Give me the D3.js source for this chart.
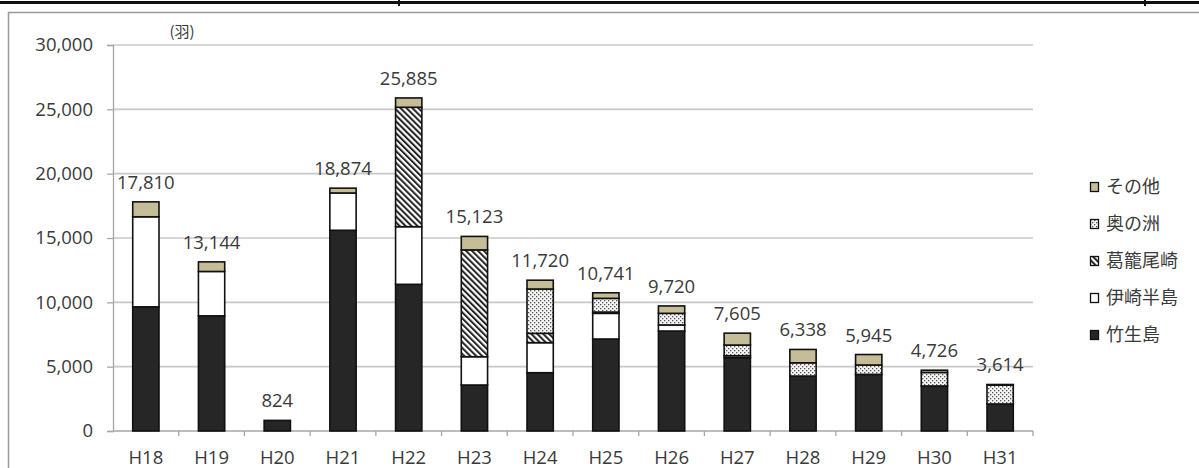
<!DOCTYPE html>
<html><head><meta charset="utf-8">
<script src="https://cdn.jsdelivr.net/npm/d3@7/dist/d3.min.js"></script>
<style>html,body{margin:0;padding:0;background:#fff;}svg{display:block;}</style>
</head><body>
<svg id="chart" width="1199" height="468"></svg>
<script>
const categories = ["H18","H19","H20","H21","H22","H23","H24","H25","H26","H27","H28","H29","H30","H31"];
const seriesNames = ["竹生島","伊崎半島","葛籠尾崎","奥の洲","その他"];
const chikubushima = [9650, 8950, 824, 15600, 11400, 3575, 4530, 7150, 7770, 5700, 4270, 4400, 3500, 2100];
const isaki        = [7000, 3450, 0, 2900, 4480, 2200, 2335, 1995, 470, 150, 0, 0, 0, 0];
const tsuzurao     = [0, 0, 0, 0, 9280, 8300, 725, 100, 0, 0, 0, 0, 0, 0];
const okunosu      = [0, 0, 0, 0, 0, 0, 3446, 1065, 905, 830, 1030, 730, 1050, 1470];
const other        = [1160, 744, 0, 374, 725, 1048, 684, 431, 575, 925, 1038, 815, 176, 44];
const totals       = [17810, 13144, 824, 18874, 25885, 15123, 11720, 10741, 9720, 7605, 6338, 5945, 4726, 3614];
const yTicks = [0, 5000, 10000, 15000, 20000, 25000, 30000];
const unitLabel = "(羽)";

const svg = d3.select("#chart");
const txt = "#3a3a3a";
const numFont = "'Open Sans', 'DejaVu Sans', sans-serif";
const cjkFont = "'Noto Sans CJK JP', 'Noto Sans CJK SC', sans-serif";

// patterns
const defs = svg.append("defs");
const hatch = defs.append("pattern").attr("id","hatch").attr("patternUnits","userSpaceOnUse")
  .attr("width",4.2).attr("height",4.2).attr("patternTransform","rotate(-45)");
hatch.append("rect").attr("width",4.2).attr("height",4.2).attr("fill","#fff");
hatch.append("line").attr("x1",1).attr("y1",0).attr("x2",1).attr("y2",4.2).attr("stroke","#222").attr("stroke-width",2);
const dots = defs.append("pattern").attr("id","dots").attr("patternUnits","userSpaceOnUse")
  .attr("width",4).attr("height",4);
dots.append("rect").attr("width",4).attr("height",4).attr("fill","#f4f4f4");
dots.append("rect").attr("x",0).attr("y",0).attr("width",1.3).attr("height",1.3).attr("fill","#555");
dots.append("rect").attr("x",2).attr("y",2).attr("width",1.3).attr("height",1.3).attr("fill","#555");

const fills = {"竹生島":"#262626","伊崎半島":"#ffffff","葛籠尾崎":"url(#hatch)","奥の洲":"url(#dots)","その他":"#c4bd97"};

// page decoration
svg.append("rect").attr("x",0).attr("y",1).attr("width",1199).attr("height",3).attr("fill","#111");
[399,1145].forEach(x=>svg.append("rect").attr("x",x-1).attr("y",0).attr("width",2).attr("height",6).attr("fill","#111"));
svg.append("path").attr("d","M8.5,470 V12.5 H1205").attr("fill","none").attr("stroke","#9a9a9a").attr("stroke-width",1.5);

// scales
const x = d3.scaleBand().domain(categories).range([113,1033]).paddingInner(0.6).paddingOuter(0.3);
const xEdge = d3.scaleBand().domain(categories).range([113,1033]).padding(0);
const y = d3.scaleLinear().domain([0,30000]).range([431,45]);

// gridlines
svg.append("g").selectAll("line").data(yTicks.filter(d=>d>0)).join("line")
  .attr("x1",113).attr("x2",1033).attr("y1",d=>y(d)).attr("y2",d=>y(d))
  .attr("stroke","#c8c8c8").attr("stroke-width",1.6);

// y axis
const yAxis = svg.append("g").attr("transform","translate(113,0)")
  .call(d3.axisLeft(y).tickValues(yTicks).tickSize(6).tickPadding(14).tickFormat(d3.format(",")));
yAxis.select(".domain").attr("stroke","#a6a6a6").attr("stroke-width",1.3);
yAxis.selectAll(".tick line").attr("stroke","#a6a6a6").attr("stroke-width",1.3);
yAxis.selectAll("text").attr("font-family",numFont).attr("font-size",18.5).attr("fill",txt);

// x axis
const xAxisG = svg.append("g").attr("transform","translate(0,431)");
xAxisG.append("line").attr("x1",113).attr("x2",1033).attr("stroke","#a6a6a6").attr("stroke-width",1.3);
xAxisG.selectAll("line.tk").data(categories.slice(1).concat(["end"])).join("line").attr("class","tk")
  .attr("x1",d=>d==="end"?1033:xEdge(d)).attr("x2",d=>d==="end"?1033:xEdge(d))
  .attr("y1",0).attr("y2",5).attr("stroke","#a6a6a6").attr("stroke-width",1.3);
xAxisG.selectAll("text").data(categories).join("text")
  .attr("x",d=>x(d)+x.bandwidth()/2).attr("y",33).attr("text-anchor","middle")
  .attr("font-family",numFont).attr("font-size",18.5).attr("fill",txt).text(d=>d);

// stacked bars
const rows = categories.map((c,i)=>({cat:c,"竹生島":chikubushima[i],"伊崎半島":isaki[i],"葛籠尾崎":tsuzurao[i],"奥の洲":okunosu[i],"その他":other[i]}));
const stacked = d3.stack().keys(seriesNames)(rows);
const barsG = svg.append("g");
stacked.forEach(layer=>{
  barsG.append("g").selectAll("rect").data(layer.filter(d=>d[1]-d[0]>0)).join("rect")
    .attr("x",d=>x(d.data.cat)).attr("width",x.bandwidth())
    .attr("y",d=>y(d[1])).attr("height",d=>y(d[0])-y(d[1]))
    .attr("fill",fills[layer.key]).attr("stroke","#111").attr("stroke-width",1.6);
});

// totals
svg.append("g").selectAll("text").data(categories).join("text")
  .attr("x",d=>x(d)+x.bandwidth()/2).attr("y",(d,i)=>y(totals[i])-13).attr("text-anchor","middle")
  .attr("font-family",numFont).attr("font-size",18.5).attr("fill",txt).text((d,i)=>d3.format(",")(totals[i]));

// unit label
svg.append("text").attr("x",182).attr("y",37).attr("text-anchor","middle")
  .attr("font-family",cjkFont).attr("font-size",15).attr("fill",txt).text(unitLabel);

// legend
const legendOrder = seriesNames.slice().reverse();
const lg = svg.append("g").selectAll("g").data(legendOrder).join("g")
  .attr("transform",(d,i)=>`translate(1090,${187+i*37})`);
lg.append("rect").attr("x",0.5).attr("y",-4.5).attr("width",8).attr("height",9)
  .attr("fill",d=>fills[d]).attr("stroke","#111").attr("stroke-width",1.3);
lg.append("text").attr("x",16).attr("y",0).attr("dy","0.36em")
  .attr("font-family",cjkFont).attr("font-size",18).attr("fill",txt).text(d=>d);
</script>
</body></html>
